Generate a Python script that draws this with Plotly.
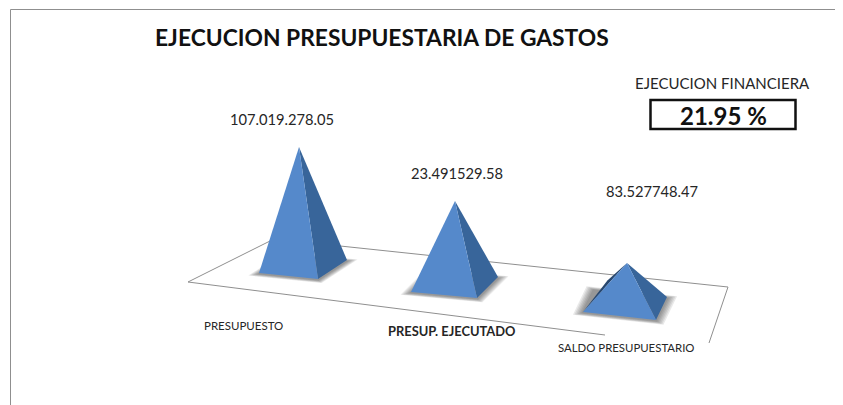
import plotly.graph_objects as go

categories = ['PRESUPUESTO', 'PRESUP. EJECUTADO', 'SALDO PRESUPUESTARIO']
value_labels = ['107.019.278.05', '23.491529.58', '83.527748.47']
# drawn pyramid heights (they do not follow the labels)
pyramid_heights = [119.5, 83.5, 41.5]
execution_label = '21.95 %'

# layout of the fake 3d floor, in screen pixels
base_left = [(259, 273), (411, 292), (583, 312)]
base_front = [(318, 279), (477, 298), (656, 320)]
base_right = [(347, 260), (498, 277), (667, 297)]
apex_lean = [-4, 0.5, 2]
sliver = [0, 0, 2]
value_pos = [(228, 119), (409, 173), (604, 191)]
cat_pos = [(201.5, 325), (385.5, 331), (555.5, 347)]
cat_size = [11.5, 12.9, 11.4]

LEFT_FACE = '#5589CB'
RIGHT_FACE = '#38659A'
TEXT = '#262626'
FONT = 'Lato'


def poly(points, color):
    return go.Scatter(x=[p[0] for p in points] + [points[0][0]],
                      y=[p[1] for p in points] + [points[0][1]],
                      mode='lines', fill='toself', fillcolor=color,
                      line=dict(width=0, color=color),
                      hoverinfo='skip', showlegend=False)


def scaled(points, center, k):
    return [(center[0] + (p[0] - center[0]) * k, center[1] + (p[1] - center[1]) * k)
            for p in points]


fig = go.Figure()

for i in range(len(categories)):
    left, front, right = base_left[i], base_front[i], base_right[i]
    back = (left[0] + right[0] - front[0], left[1] + right[1] - front[1])
    center = ((left[0] + right[0]) / 2, (left[1] + right[1]) / 2)
    apex = (center[0] + apex_lean[i], center[1] - pyramid_heights[i])

    # soft shadow on the floor
    base = [left, front, right, back]
    for k in [1.24, 1.2, 1.16, 1.12, 1.08, 1.04]:
        fig.add_trace(poly([(x, y + 1) for x, y in scaled(base, center, k)], 'rgba(40,40,40,0.1)'))

    if sliver[i]:
        mid = (left[0] + (apex[0] - left[0]) * 0.6 - sliver[i], left[1] + (apex[1] - left[1]) * 0.6 - sliver[i])
        fig.add_trace(poly([apex, mid, left], '#27476F'))
    fig.add_trace(poly([apex, front, right], RIGHT_FACE))
    fig.add_trace(poly([apex, left, front], LEFT_FACE))

    fig.add_annotation(x=value_pos[i][0], y=value_pos[i][1], text=value_labels[i],
                       xanchor='left', yanchor='middle', showarrow=False,
                       font=dict(family=FONT, size=14.7, color=TEXT))
    fig.add_annotation(x=cat_pos[i][0], y=cat_pos[i][1], text=categories[i],
                       xanchor='left', yanchor='middle', showarrow=False,
                       font=dict(family=FONT, size=cat_size[i], color=TEXT,
                                 weight='bold' if i == 1 else 'normal'))

fig.add_annotation(x=152.5, y=37, text='EJECUCION PRESUPUESTARIA DE GASTOS',
                   xanchor='left', yanchor='middle', showarrow=False,
                   font=dict(family=FONT, size=22.8, color='#111111', weight='bold'))
fig.add_annotation(x=722.5, y=83, text='EJECUCION FINANCIERA', xanchor='center',
                   yanchor='middle', showarrow=False,
                   font=dict(family=FONT, size=15, color=TEXT))
fig.add_annotation(x=723.5, y=115, text=execution_label, xanchor='center', yanchor='middle',
                   showarrow=False, font=dict(family=FONT, size=24, color='#111111', weight='bold'))

frame = dict(type='line', layer='below', line=dict(color='#8f8f8f', width=1))
shapes = [
    dict(frame, x0=10.5, y0=9.5, x1=10.5, y1=405),
    dict(frame, x0=10.5, y0=9.5, x1=843, y1=9.5),
    dict(frame, x0=188, y0=282, x1=274, y1=239),
    dict(frame, x0=274, y0=239, x1=728, y1=287),
    dict(frame, x0=728, y0=287, x1=709, y1=343),
    dict(frame, x0=188, y0=282, x1=605, y1=335),
    dict(type='rect', x0=650.5, y0=100, x1=795.5, y1=129, line=dict(color='#111111', width=2.5)),
]

# the page keeps an 8px body margin, so the plot starts at 8,8 of the window
fig.update_layout(width=835, height=397, margin=dict(l=0, r=0, t=0, b=0),
                  paper_bgcolor='white', plot_bgcolor='white', shapes=shapes,
                  xaxis=dict(range=[8, 843], visible=False, fixedrange=True),
                  yaxis=dict(range=[405, 8], visible=False, fixedrange=True))
fig.write_html('out.html')
